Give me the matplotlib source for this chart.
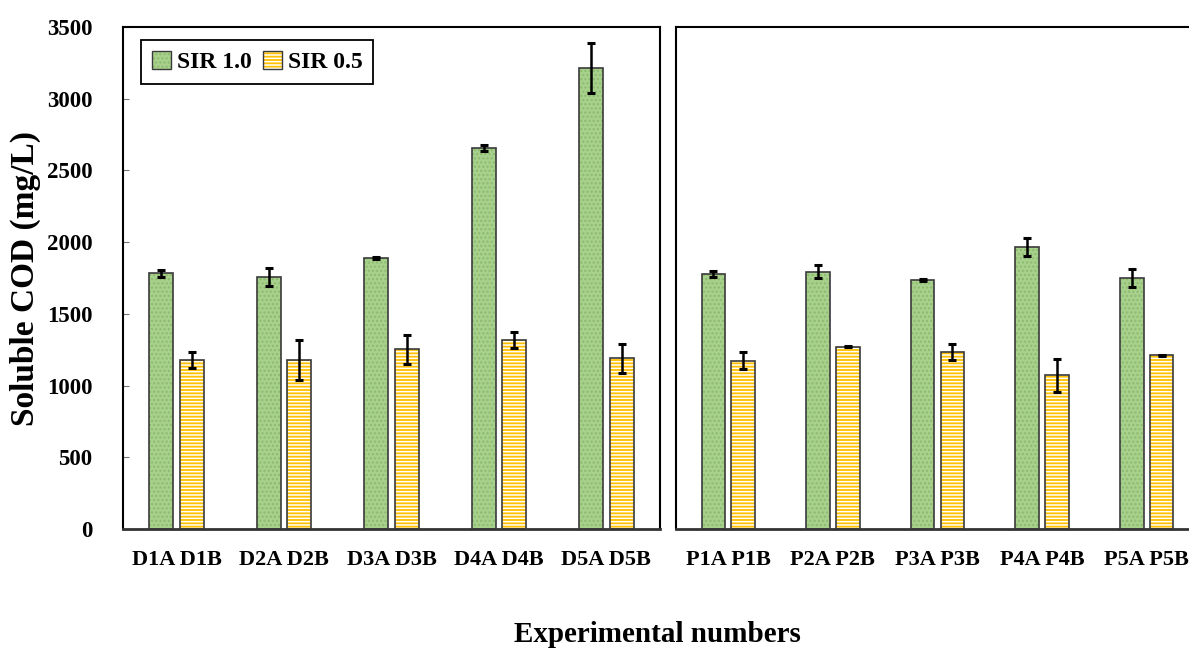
import matplotlib.pyplot as plt
import numpy as np
from matplotlib.patches import Patch

# Soluble COD (mg/L) per run, SIR 1.0 (A) and SIR 0.5 (B)
d_groups = ["D1A D1B", "D2A D2B", "D3A D3B", "D4A D4B", "D5A D5B"]
d_sir10 = [1783, 1755, 1890, 2655, 3213]
d_sir10_err = [25, 62, 5, 23, 172]
d_sir05 = [1178, 1178, 1253, 1320, 1190]
d_sir05_err = [58, 142, 100, 55, 100]

p_groups = ["P1A P1B", "P2A P2B", "P3A P3B", "P4A P4B", "P5A P5B"]
p_sir10 = [1778, 1795, 1737, 1964, 1750]
p_sir10_err = [23, 46, 5, 63, 64]
p_sir05 = [1174, 1272, 1234, 1072, 1211]
p_sir05_err = [58, 5, 59, 116, 5]

yticks = [0, 500, 1000, 1500, 2000, 2500, 3000, 3500]

GREEN = "#a9d18e"
GREEN_DOT = "#8dbb6e"
YELLOW = "#ffc000"
EDGE = "#3a3a3a"
FONT = "Liberation Serif"

plt.rcParams["font.family"] = FONT
plt.rcParams["font.weight"] = "bold"
plt.rcParams["hatch.linewidth"] = 1.1

W = 0.225
GAP = 0.03


def patterned_bars(ax, x, h, fc, hatch, hc):
    # fill + hatch first, then a plain outline on top
    ax.bar(x, h, W, color=fc, edgecolor=hc, hatch=hatch, linewidth=0, zorder=2)
    ax.bar(x, h, W, fill=False, edgecolor=EDGE, linewidth=1.2, zorder=3)


def draw_panel(ax, groups, a, a_err, b, b_err):
    x = np.arange(len(groups)) + 0.5
    xa = x - GAP - W / 2
    xb = x + GAP + W / 2
    patterned_bars(ax, xa, a, GREEN, "....", GREEN_DOT)
    patterned_bars(ax, xb, b, YELLOW, "-----", "white")
    ax.errorbar(xa, a, yerr=a_err, fmt="none", ecolor="black",
                elinewidth=1.8, capsize=3, capthick=2.2, zorder=4)
    ax.errorbar(xb, b, yerr=b_err, fmt="none", ecolor="black",
                elinewidth=1.8, capsize=3, capthick=2.2, zorder=4)
    ax.set_xlim(0, len(groups))
    ax.set_ylim(0, 3500)
    ax.set_xticks(x)
    ax.set_xticklabels(groups, fontsize=16, fontweight="bold")
    ax.tick_params(axis="x", length=0, pad=15)
    for s in ax.spines.values():
        s.set_linewidth(1.5)
        s.set_color("black")
    ax.spines["bottom"].set_color("#333333")
    ax.spines["bottom"].set_linewidth(2)


fig = plt.figure(figsize=(11.89, 6.5), dpi=100)
ax1 = fig.add_axes([123 / 1189, 121 / 650, 537 / 1189, 502 / 650])
ax2 = fig.add_axes([676 / 1189, 121 / 650, 523 / 1189, 502 / 650])

draw_panel(ax1, d_groups, d_sir10, d_sir10_err, d_sir05, d_sir05_err)
draw_panel(ax2, p_groups, p_sir10, p_sir10_err, p_sir05, p_sir05_err)

ax1.set_yticks(yticks)
ax1.set_yticklabels([str(v) for v in yticks], fontsize=16.5, fontweight="bold")
ax1.tick_params(axis="y", direction="in", length=4, color="#777777", pad=22)
ax2.set_yticks([])

handles = [
    (Patch(facecolor=GREEN, edgecolor=GREEN_DOT, hatch="....", linewidth=0),
     Patch(fill=False, edgecolor=EDGE, linewidth=1)),
    (Patch(facecolor=YELLOW, edgecolor="white", hatch="-----", linewidth=0),
     Patch(fill=False, edgecolor=EDGE, linewidth=1)),
]
leg = ax1.legend(handles, ["SIR 1.0", "SIR 0.5"], ncol=2, loc="upper left",
                 bbox_to_anchor=(0.034, 0.974), borderaxespad=0,
                 fancybox=False, edgecolor="black",
                 framealpha=1, handlelength=0.8, handleheight=0.8,
                 handletextpad=0.25, columnspacing=0.5, borderpad=0.45,
                 prop={"family": FONT, "weight": "bold", "size": 17})
leg.get_frame().set_linewidth(1.3)

fig.text(25 / 1189, (650 - 278) / 650, "Soluble COD (mg/L)", rotation=90,
         ha="center", va="center", fontsize=24, fontweight="bold")
fig.text(657 / 1189, 16 / 650, "Experimental numbers", ha="center",
         va="center", fontsize=21, fontweight="bold")

fig.savefig("out.png", dpi=100)
